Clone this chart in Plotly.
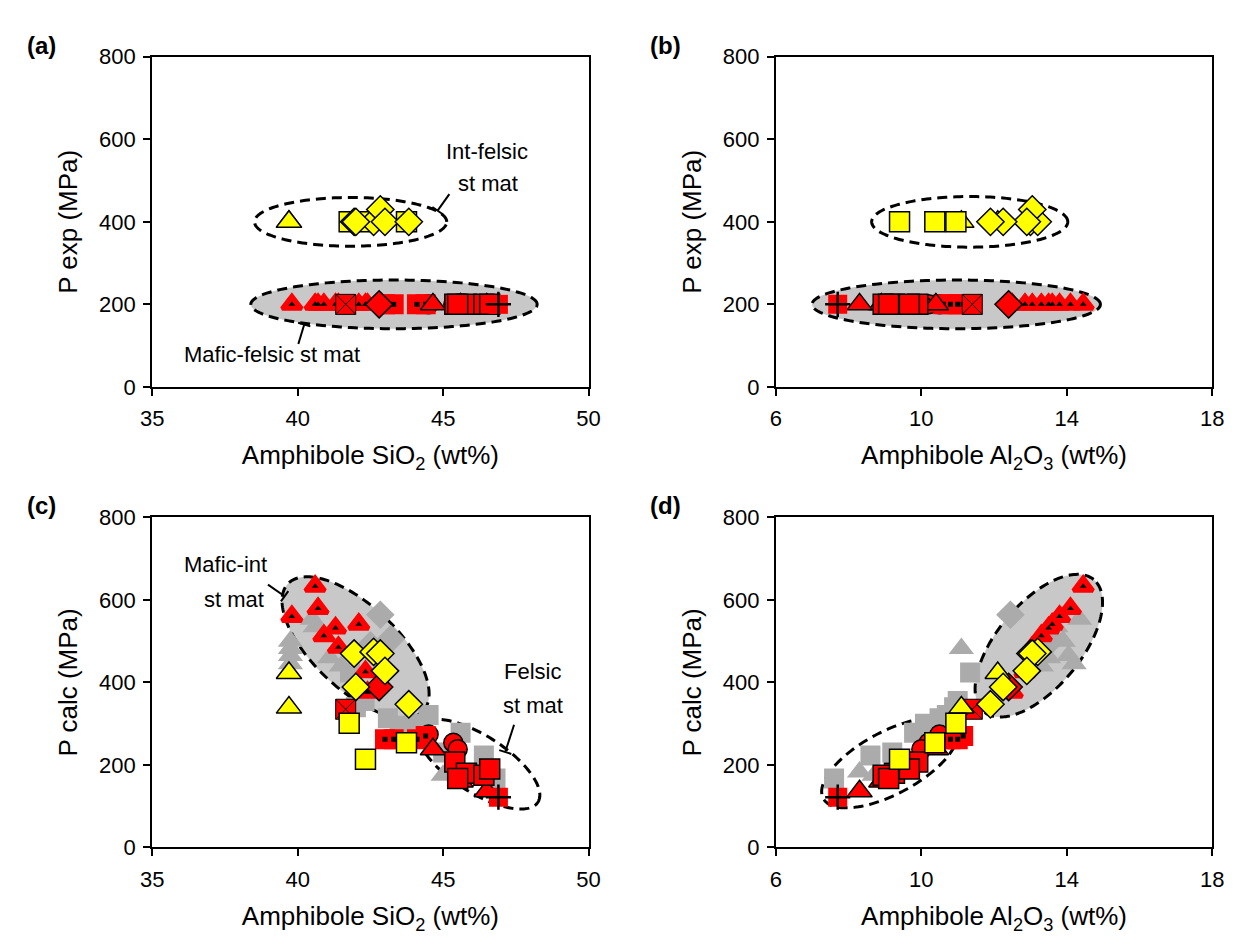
import numpy as np
import plotly.graph_objects as go

W, H = 1238, 952

# ---------------- data ----------------
# Int-felsic starting material (yellow symbols)
yel_tri_sio2 = [39.7, 39.7]
yel_tri_al2o3 = [11.1, 12.1]
yel_tri_pexp = [400, 400]
yel_tri_pcalc = [339, 423]

yel_sq_sio2 = [41.77, 42.33, 43.74]
yel_sq_al2o3 = [10.95, 9.4, 10.37]
yel_sq_pexp = [400, 400, 400]
yel_sq_pcalc = [301, 214, 254]

yel_dia_sio2 = [41.94, 42.61, 42.84, 43.0, 42.0, 43.82]
yel_dia_al2o3 = [13.0, 13.2, 13.05, 12.9, 12.25, 11.9]
yel_dia_pexp = [400, 400, 430, 400, 400, 400]
yel_dia_pcalc = [470, 474, 470, 428, 389, 347]

# Mafic-felsic starting material (red symbols), all run at 200 MPa
red_dtri_sio2 = [40.6, 40.7, 39.8, 42.1, 41.3, 40.9, 41.4, 42.33, 42.4]
red_dtri_al2o3 = [14.45, 14.1, 13.8, 13.6, 13.5, 13.3, 13.05, 12.85, 12.5]
red_dtri_pcalc = [633, 579, 560, 541, 532, 513, 485, 426, 376]

red_dia_sio2 = [42.8]
red_dia_al2o3 = [12.4]
red_dia_pcalc = [389]

red_x_sio2 = [41.65]
red_x_al2o3 = [11.4]
red_x_pcalc = [335]

red_dsq_sio2 = [43.0, 43.3, 44.1, 44.4]
red_dsq_al2o3 = [10.6, 10.8, 11.0, 11.15]
red_dsq_pcalc = [262, 262, 262, 270]

red_circ_sio2 = [44.5, 45.35, 45.5]
red_circ_al2o3 = [10.5, 10.2, 10.0]
red_circ_pcalc = [274, 254, 238]

red_sq_sio2 = [45.4, 45.8, 46.4, 46.6, 45.5]
red_sq_al2o3 = [9.9, 9.26, 8.95, 9.67, 9.1]
red_sq_pcalc = [207, 180, 175, 190, 167]

red_tri_sio2 = [44.65, 45.6, 46.5]
red_tri_al2o3 = [10.4, 8.9, 8.3]
red_tri_pcalc = [238, 160, 136]

red_plus_sio2 = [46.9]
red_plus_al2o3 = [7.7]
red_plus_pcalc = [122]

red_pexp = 200

# Other calibration runs (grey symbols, calculated pressures only)
grey_tri_sio2 = [39.75, 39.75, 39.75, 39.75, 40.5, 40.6, 41.1, 41.5, 46.3, 45.0]
grey_tri_al2o3 = [11.1, 13.9, 14.05, 14.2, 14.35, 13.7, 13.5, 13.3, 8.3, 8.7]
grey_tri_pcalc = [482, 500, 465, 445, 553, 535, 460, 440, 183, 175]

grey_sq_sio2 = [43.1, 44.5, 45.6, 46.4, 41.8, 42.3, 43.5, 46.8, 45.0, 42.0, 44.0]
grey_sq_al2o3 = [10.5, 10.7, 9.8, 8.6, 11.34, 11.0, 10.3, 7.6, 9.2, 10.9, 10.1]
grey_sq_pcalc = [313, 321, 278, 223, 424, 355, 295, 167, 230, 340, 300]

grey_dia_sio2 = [42.84, 42.5, 43.2]
grey_dia_al2o3 = [12.45, 13.3, 13.6]
grey_dia_pcalc = [564, 490, 505]

sio2_ticks = [35, 40, 45, 50]
al2o3_ticks = [6, 10, 14, 18]
p_ticks = [0, 200, 400, 600, 800]

# ---------------- layout geometry (pixels) ----------------
PANELS = {
    "a": dict(ax="", px=(143, 588), py=(46, 385), xr=(35, 50), yr=(0, 800)),
    "b": dict(ax="2", px=(779, 1224), py=(46, 385), xr=(6, 18), yr=(0, 800)),
    "c": dict(ax="3", px=(143, 588), py=(519, 858), xr=(35, 50), yr=(0, 800)),
    "d": dict(ax="4", px=(779, 1224), py=(519, 858), xr=(6, 18), yr=(0, 800)),
}

RED, YEL, GREY, FILL = "#ff0000", "#ffff00", "#ababab", "#c8c8c8"
FONT = "Liberation Sans, Arial, sans-serif"


def d2px(p, x, y):
    g = PANELS[p]
    px = g["px"][0] + (x - g["xr"][0]) / (g["xr"][1] - g["xr"][0]) * (g["px"][1] - g["px"][0])
    py = g["py"][1] - (y - g["yr"][0]) / (g["yr"][1] - g["yr"][0]) * (g["py"][1] - g["py"][0])
    return px, py


def px2d(p, px, py):
    g = PANELS[p]
    x = g["xr"][0] + (px - g["px"][0]) / (g["px"][1] - g["px"][0]) * (g["xr"][1] - g["xr"][0])
    y = g["yr"][0] + (g["py"][1] - py) / (g["py"][1] - g["py"][0]) * (g["yr"][1] - g["yr"][0])
    return x, y


fig = go.Figure()


def pts(p, x, y, symbol, size, color, lc=None, lw=0):
    ax = PANELS[p]["ax"]
    if np.isscalar(y):
        y = [y] * len(x)
    fig.add_trace(go.Scatter(
        x=x, y=y, mode="markers", xaxis="x" + ax, yaxis="y" + ax,
        showlegend=False, hoverinfo="skip",
        marker=dict(symbol=symbol, size=size, color=color,
                    line=dict(color=lc if lc else color, width=lw))))


def red_groups(p, x, ys):
    pts(p, x["circ"], ys["circ"], "circle", 19, RED, "black", 1.5)
    pts(p, x["dtri"], ys["dtri"], "triangle-up", 17, RED, RED, 4.5)
    pts(p, x["dtri"], ys["dtri"], "triangle-up", 6, "black")
    pts(p, x["dsq"], ys["dsq"], "square", 15, RED, RED, 5)
    pts(p, x["dsq"], ys["dsq"], "square", 5, "black")
    pts(p, x["x"], ys["x"], "square-x", 20, RED, "black", 1)
    pts(p, x["dia"], ys["dia"], "diamond", 21, RED, "black", 1.5)
    pts(p, x["tri"], ys["tri"], "triangle-up", 22, RED, "black", 1.5)
    pts(p, x["sq"], ys["sq"], "square", 20, RED, "black", 1.5)
    pts(p, x["plus"], ys["plus"], "square", 19, RED)
    pts(p, x["plus"], ys["plus"], "cross-thin", 18, "black", "black", 2.5)


def grey_groups(p, xs, ys):
    pts(p, xs["tri"], ys["tri"], "triangle-up", 22, GREY)
    pts(p, xs["sq"], ys["sq"], "square", 20, GREY)
    pts(p, xs["dia"], ys["dia"], "diamond", 22, GREY)


def yellow_groups(p, xs, ys):
    pts(p, xs["tri"], ys["tri"], "triangle-up", 22, YEL, "black", 1.5)
    pts(p, xs["sq"], ys["sq"], "square", 20, YEL, "black", 1.5)
    pts(p, xs["dia"], ys["dia"], "diamond", 21, YEL, "black", 1.5)


red_si = dict(dtri=red_dtri_sio2, dsq=red_dsq_sio2, circ=red_circ_sio2, x=red_x_sio2,
              dia=red_dia_sio2, tri=red_tri_sio2, sq=red_sq_sio2, plus=red_plus_sio2)
red_al = dict(dtri=red_dtri_al2o3, dsq=red_dsq_al2o3, circ=red_circ_al2o3, x=red_x_al2o3,
              dia=red_dia_al2o3, tri=red_tri_al2o3, sq=red_sq_al2o3, plus=red_plus_al2o3)
red_pc = dict(dtri=red_dtri_pcalc, dsq=red_dsq_pcalc, circ=red_circ_pcalc, x=red_x_pcalc,
              dia=red_dia_pcalc, tri=red_tri_pcalc, sq=red_sq_pcalc, plus=red_plus_pcalc)
red_pe = {k: red_pexp for k in red_si}

grey_si = dict(tri=grey_tri_sio2, sq=grey_sq_sio2, dia=grey_dia_sio2)
grey_al = dict(tri=grey_tri_al2o3, sq=grey_sq_al2o3, dia=grey_dia_al2o3)
grey_pc = dict(tri=grey_tri_pcalc, sq=grey_sq_pcalc, dia=grey_dia_pcalc)

yel_si = dict(tri=yel_tri_sio2, sq=yel_sq_sio2, dia=yel_dia_sio2)
yel_al = dict(tri=yel_tri_al2o3, sq=yel_sq_al2o3, dia=yel_dia_al2o3)
yel_pe = dict(tri=yel_tri_pexp, sq=yel_sq_pexp, dia=yel_dia_pexp)
yel_pc = dict(tri=yel_tri_pcalc, sq=yel_sq_pcalc, dia=yel_dia_pcalc)

# (a) and (b): experimental pressure
red_groups("a", red_si, red_pe)
yellow_groups("a", yel_si, yel_pe)
red_groups("b", red_al, red_pe)
yellow_groups("b", yel_al, yel_pe)
# (c) and (d): calculated pressure
grey_groups("c", grey_si, grey_pc)
red_groups("c", red_si, red_pc)
yellow_groups("c", yel_si, yel_pc)
grey_groups("d", grey_al, grey_pc)
red_groups("d", red_al, red_pc)
yellow_groups("d", yel_al, yel_pc)

# ---------------- group outlines (dashed ellipses) ----------------
shapes = []


def ellipse(p, cx, cy, a_px, b_px, ang_deg, filled):
    ax = PANELS[p]["ax"]
    pcx, pcy = d2px(p, cx, cy)
    t = np.linspace(0, 2 * np.pi, 181)
    th = np.radians(ang_deg)
    ex = a_px * np.cos(t) * np.cos(th) - b_px * np.sin(t) * np.sin(th)
    ey = a_px * np.cos(t) * np.sin(th) + b_px * np.sin(t) * np.cos(th)
    path = ""
    for i, (u, v) in enumerate(zip(pcx + ex, pcy - ey)):
        xd, yd = px2d(p, u, v)
        path += ("M" if i == 0 else "L") + f"{xd:.4f},{yd:.3f}"
    path += "Z"
    shapes.append(dict(type="path", path=path, xref="x" + ax, yref="y" + ax, layer="below",
                       fillcolor=FILL if filled else "rgba(0,0,0,0)",
                       line=dict(color="black", width=3, dash="10px,6px")))


ellipse("a", 41.82, 400, 98, 25, 0, False)
ellipse("a", 43.31, 200, 146, 25, 0, True)
ellipse("b", 11.33, 400, 100, 26, 0, False)
ellipse("b", 10.96, 200, 147, 25, 0, True)
ellipse("c", 41.99, 485, 95, 43, -43.5, True)
ellipse("c", 46.22, 202, 72, 29, -33, False)
ellipse("d", 13.23, 489, 88, 43, 50.6, True)
ellipse("d", 9.13, 205, 77, 32, 28.4, False)


# leader lines with a short cross-bar at the ellipse end
def leader(x0, y0, x1, y1, bar=13):
    shapes.append(dict(type="line", xref="paper", yref="paper",
                       x0=x0 / W, y0=1 - y0 / H, x1=x1 / W, y1=1 - y1 / H,
                       line=dict(color="black", width=2)))
    dx, dy = x1 - x0, y1 - y0
    n = np.hypot(dx, dy)
    ux, uy = -dy / n * bar / 2, dx / n * bar / 2
    shapes.append(dict(type="line", xref="paper", yref="paper",
                       x0=(x1 - ux) / W, y0=1 - (y1 - uy) / H,
                       x1=(x1 + ux) / W, y1=1 - (y1 + uy) / H,
                       line=dict(color="black", width=2)))


leader(446, 187, 434, 204)
leader(292, 341, 298, 321)
leader(261, 588, 278, 600)
leader(512, 732, 503, 760)

# ---------------- text ----------------
ann = []


def text(s, px, py, size=22, bold=False):
    ann.append(dict(text=s, x=px / W, y=1 - py / H,
                    xref="paper", yref="paper", showarrow=False,
                    xanchor="center", yanchor="middle",
                    font=dict(family=FONT, size=size, color="black",
                              weight="bold" if bold else "normal")))


text("(a)", 30, 34, 24, bold=True)
text("(b)", 666, 34, 24, bold=True)
text("(c)", 30, 507, 24, bold=True)
text("(d)", 666, 507, 24, bold=True)

text("Int-felsic", 484, 143)
text("st mat", 485, 176)
text("Mafic-felsic st mat", 265, 352)
text("Mafic-int", 218, 567)
text("st mat", 226, 603)
text("Felsic", 531, 677)
text("st mat", 531, 712)

# ---------------- axes ----------------
common = dict(showline=True, linecolor="black", linewidth=2, mirror=True,
              ticks="outside", ticklen=7, tickwidth=2, tickcolor="black",
              showgrid=False, zeroline=False, fixedrange=True,
              tickfont=dict(family=FONT, size=22, color="black"))

layout = dict(width=W, height=H, margin=dict(l=0, r=0, t=0, b=0),
              paper_bgcolor="white", plot_bgcolor="white",
              shapes=shapes, annotations=ann, showlegend=False)

TITLE_FONT = dict(family=FONT, size=26, color="black")
for k, g in PANELS.items():
    ax = g["ax"]
    xd = [g["px"][0] / W, g["px"][1] / W]
    yd = [1 - g["py"][1] / H, 1 - g["py"][0] / H]
    xt = sio2_ticks if k in "ac" else al2o3_ticks
    xtitle = "Amphibole SiO<sub>2</sub> (wt%)" if k in "ac" else "Amphibole Al<sub>2</sub>O<sub>3</sub> (wt%)"
    ytitle = "P exp (MPa)" if k in "ab" else "P calc (MPa)"
    layout["xaxis" + ax] = dict(common, domain=xd, range=list(g["xr"]), tickvals=xt,
                                anchor="y" + ax, ticklabelstandoff=4,
                                title=dict(text=xtitle, font=TITLE_FONT, standoff=16))
    layout["yaxis" + ax] = dict(common, domain=yd, range=list(g["yr"]), tickvals=p_ticks,
                                anchor="x" + ax, ticklabelstandoff=3,
                                title=dict(text=ytitle, font=TITLE_FONT, standoff=14))

fig.update_layout(**layout)
fig.write_html("out.html")
